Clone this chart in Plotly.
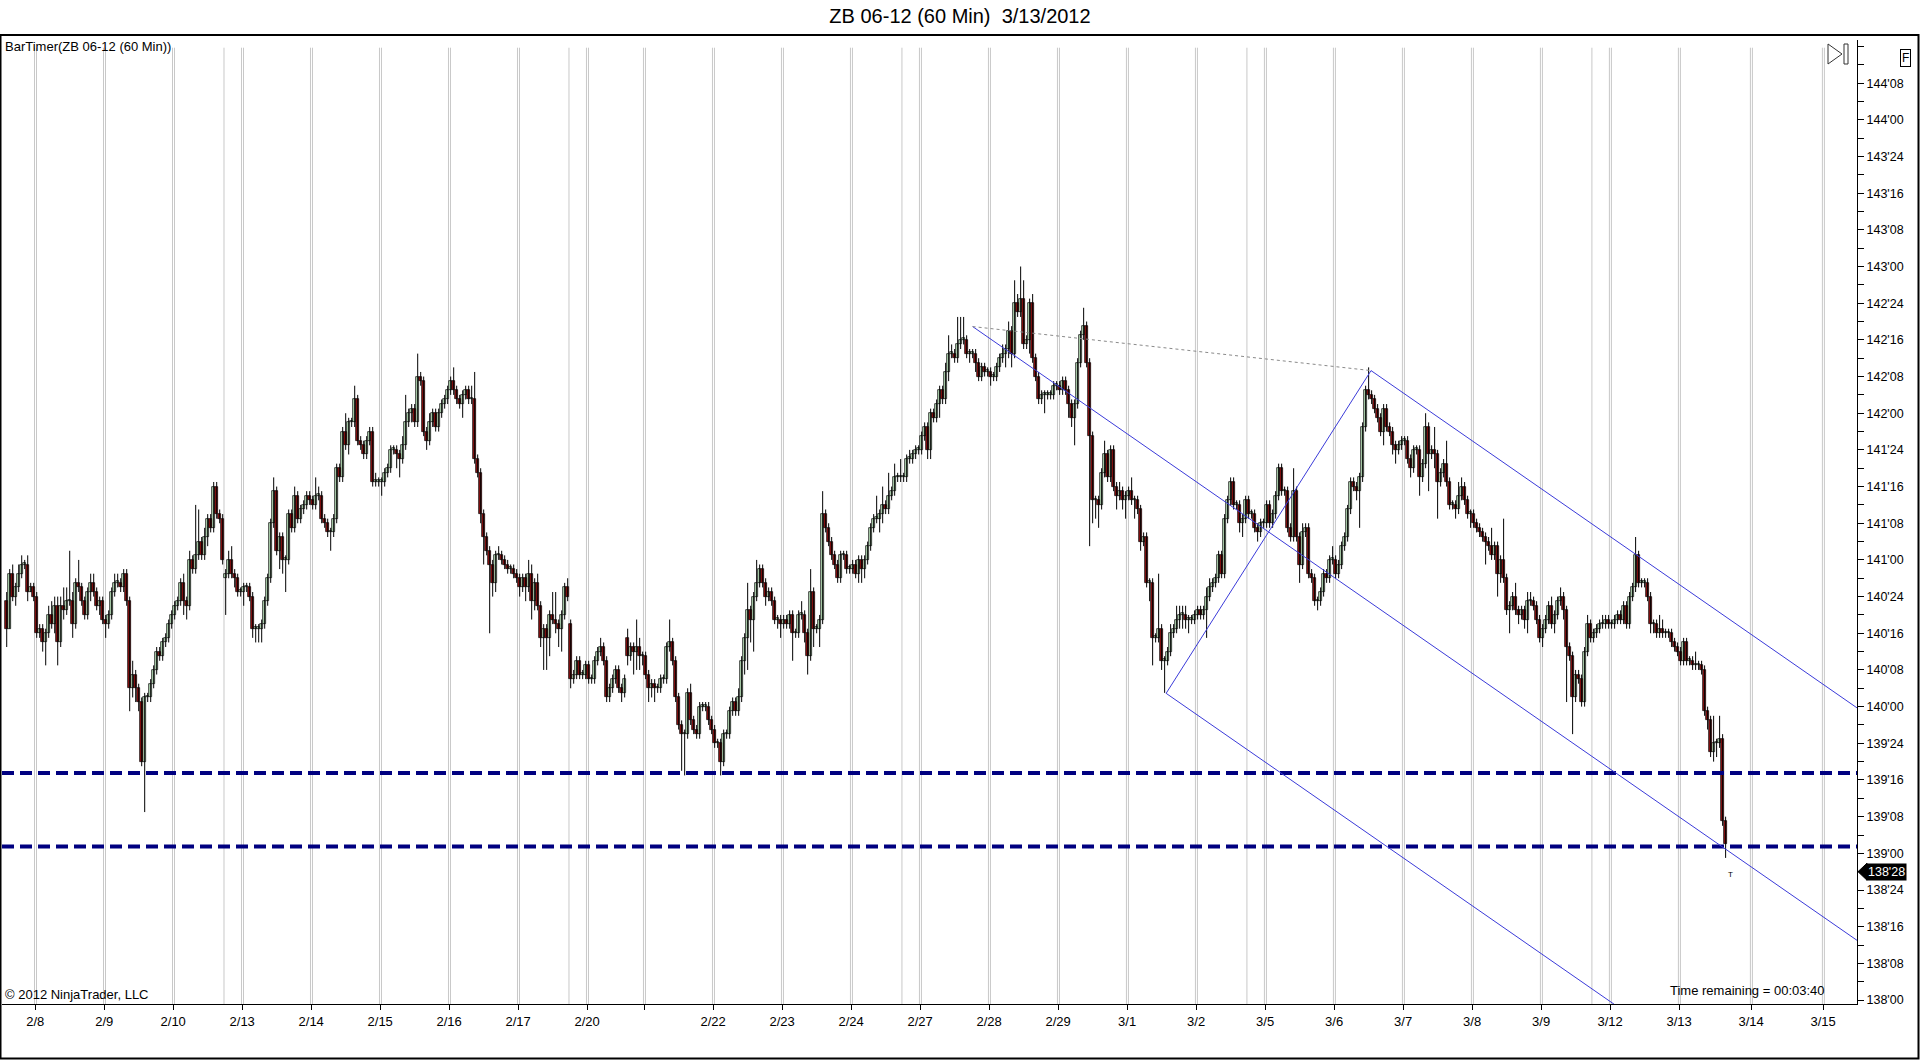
import plotly.graph_objects as go

# ZB 06-12, 60 minute bars; prices in 32nds above 138'00
closes = [
    81, 93, 88, 90, 93, 95, 95, 89, 90, 88,
    80, 81, 78, 80, 84, 82, 86, 78, 86, 85,
    87, 87, 82, 91, 90, 87, 84, 89, 91, 89,
    86, 87, 83, 82, 84, 89, 91, 91, 90, 93,
    87, 68, 71, 68, 65, 52, 66, 66, 69, 72,
    76, 75, 78, 79, 82, 84, 86, 87, 91, 87,
    86, 96, 94, 97, 100, 97, 101, 105, 103, 112,
    106, 105, 96, 93, 96, 93, 92, 89, 89, 90,
    90, 88, 81, 81, 81, 82, 87, 92, 104, 111,
    98, 101, 96, 96, 106, 103, 110, 105, 107, 108,
    110, 109, 108, 110, 110, 105, 104, 102, 102, 105,
    116, 114, 124, 121, 126, 126, 131, 122, 121, 119,
    122, 124, 113, 113, 113, 113, 115, 116, 120, 120,
    119, 118, 121, 126, 128, 129, 126, 136, 135, 124,
    122, 126, 128, 125, 128, 130, 131, 133, 135, 133,
    131, 130, 132, 133, 131, 131, 118, 115, 106, 101,
    98, 95, 91, 97, 97, 96, 95, 94, 94, 93,
    92, 90, 92, 90, 93, 87, 91, 86, 79, 81,
    79, 84, 83, 82, 81, 84, 90, 88, 70, 71,
    74, 71, 71, 73, 70, 70, 74, 76, 77, 74,
    66, 68, 70, 72, 68, 67, 70, 75, 77, 76,
    77, 75, 75, 71, 68, 69, 68, 68, 70, 70,
    77, 78, 74, 66, 60, 58, 58, 67, 61, 59,
    58, 64, 64, 64, 61, 59, 56, 56, 52, 58,
    58, 63, 65, 63, 66, 74, 79, 85, 83, 88,
    91, 94, 91, 88, 89, 87, 83, 83, 82, 83,
    82, 84, 80, 80, 84, 84, 80, 75, 89, 81,
    81, 83, 106, 103, 100, 97, 95, 92, 97, 97,
    94, 94, 95, 93, 96, 94, 96, 99, 103, 105,
    105, 106, 108, 107, 110, 111, 114, 114, 114, 114,
    118, 118, 119, 120, 120, 123, 125, 120, 128, 127,
    130, 133, 131, 137, 141, 141, 140, 143, 144, 144,
    141, 141, 141, 139, 136, 138, 137, 137, 136, 136,
    138, 140, 141, 142, 146, 141, 152, 150, 153, 143,
    144, 152, 140, 136, 131, 132, 132, 132, 132, 134,
    134, 133, 135, 133, 130, 127, 130, 139, 145, 147,
    139, 123, 109, 109, 108, 115, 119, 114, 120, 112,
    110, 111, 109, 110, 111, 109, 109, 107, 100, 101,
    91, 91, 79, 79, 81, 74, 74, 76, 80, 81,
    83, 84, 84, 83, 83, 83, 84, 85, 84, 85,
    88, 90, 91, 92, 97, 93, 105, 109, 113, 108,
    108, 104, 105, 109, 106, 106, 103, 102, 104, 104,
    108, 104, 106, 110, 116, 111, 111, 103, 101, 111,
    101, 95, 102, 103, 93, 92, 87, 87, 89, 93,
    92, 96, 96, 93, 95, 99, 101, 107, 113, 112,
    111, 114, 125, 133, 132, 131, 129, 127, 124, 129,
    125, 124, 121, 120, 121, 122, 122, 118, 116, 120,
    120, 114, 117, 125, 119, 120, 119, 113, 115, 117,
    113, 108, 108, 107, 110, 112, 109, 106, 106, 104,
    103, 102, 101, 100, 99, 97, 99, 93, 96, 92,
    85, 86, 88, 85, 84, 85, 83, 87, 87, 86,
    83, 79, 81, 83, 86, 82, 84, 87, 88, 85,
    77, 75, 66, 71, 70, 65, 76, 82, 79, 80,
    81, 82, 82, 83, 82, 82, 83, 84, 83, 86,
    82, 88, 90, 97, 91, 91, 91, 88, 82, 82,
    80, 81, 80, 80, 80, 78, 77, 76, 74, 78,
    74, 74, 73, 73, 73, 72, 63, 61, 54, 56,
    56, 57, 39, 34,
]

# wick lengths in 32nds above the body top / below the body bottom
up_wick = [
    2, 1, 2, 1, 2, 2, 1, 2, 1, 1,
    1, 1, 1, 1, 2, 3, 2, 2, 2, 4,
    3, 11, 2, 1, 5, 1, 1, 1, 2, 2,
    1, 1, 1, 1, 1, 1, 2, 2, 1, 1,
    1, 1, 3, 1, 1, 1, 1, 1, 1, 1,
    1, 1, 1, 1, 1, 1, 1, 1, 1, 2,
    1, 2, 1, 11, 7, 1, 2, 1, 1, 1,
    1, 1, 1, 1, 2, 3, 1, 1, 1, 1,
    1, 1, 1, 1, 1, 1, 1, 1, 1, 3,
    1, 1, 1, 1, 1, 1, 2, 1, 1, 1,
    1, 1, 1, 4, 2, 1, 1, 1, 1, 1,
    1, 1, 1, 4, 1, 1, 3, 1, 1, 1,
    1, 1, 1, 2, 1, 1, 1, 1, 1, 1,
    1, 1, 2, 6, 1, 1, 1, 5, 1, 1,
    1, 2, 1, 1, 1, 1, 1, 1, 1, 3,
    1, 1, 1, 1, 1, 3, 6, 1, 1, 1,
    1, 1, 1, 1, 2, 1, 1, 1, 1, 1,
    1, 1, 1, 1, 3, 2, 1, 2, 1, 1,
    1, 1, 5, 6, 1, 1, 1, 2, 1, 1,
    1, 1, 1, 1, 1, 1, 1, 1, 2, 1,
    1, 1, 1, 1, 1, 1, 1, 2, 1, 1,
    6, 2, 1, 1, 1, 1, 1, 1, 1, 1,
    1, 5, 1, 1, 1, 1, 1, 1, 2, 1,
    1, 1, 1, 1, 1, 1, 1, 1, 1, 1,
    1, 1, 1, 1, 2, 1, 1, 6, 1, 1,
    5, 1, 1, 1, 1, 1, 1, 1, 1, 1,
    1, 1, 1, 1, 1, 3, 1, 1, 5, 1,
    1, 1, 5, 1, 1, 1, 1, 1, 1, 1,
    1, 1, 1, 1, 1, 1, 1, 1, 1, 1,
    5, 1, 4, 1, 5, 1, 3, 1, 4, 1,
    1, 2, 1, 1, 1, 1, 1, 1, 1, 1,
    1, 1, 1, 2, 4, 2, 1, 6, 5, 5,
    1, 1, 1, 1, 1, 1, 1, 1, 1, 1,
    1, 1, 2, 1, 2, 1, 5, 2, 7, 4,
    1, 1, 2, 1, 1, 1, 1, 1, 1, 1,
    1, 1, 1, 1, 1, 1, 1, 1, 1, 4,
    1, 1, 1, 1, 1, 1, 3, 1, 1, 1,
    1, 2, 1, 1, 1, 3, 1, 1, 1, 1,
    1, 1, 1, 1, 12, 1, 1, 1, 2, 1,
    3, 2, 2, 2, 1, 1, 1, 1, 1, 1,
    2, 2, 1, 1, 1, 1, 1, 1, 1, 1,
    1, 1, 1, 1, 1, 1, 1, 1, 1, 1,
    1, 1, 1, 1, 1, 1, 1, 1, 1, 5,
    1, 1, 2, 1, 1, 1, 1, 1, 1, 1,
    1, 1, 3, 1, 1, 1, 1, 1, 1, 1,
    1, 1, 1, 1, 5, 1, 1, 1, 1, 1,
    1, 1, 1, 1, 1, 1, 1, 1, 1, 1,
    1, 1, 1, 3, 1, 1, 5, 1, 1, 1,
    5, 1, 1, 1, 3, 2, 1, 1, 1, 1,
    1, 1, 1, 1, 1, 4, 1, 1, 1, 9,
    1, 1, 1, 3, 1, 1, 1, 2, 2, 1,
    1, 1, 1, 1, 1, 2, 1, 1, 2, 1,
    1, 1, 1, 1, 1, 1, 1, 2, 1, 1,
    1, 1, 2, 1, 1, 1, 1, 1, 1, 1,
    1, 1, 1, 4, 1, 1, 1, 1, 1, 1,
    1, 3, 2, 1, 1, 1, 1, 1, 1, 1,
    1, 1, 1, 3, 1, 1, 1, 1, 1, 6,
    1, 5, 1, 1,
]

down_wick = [
    4, 0, 1, 2, 1, 1, 1, 2, 0, 1,
    1, 1, 2, 5, 1, 1, 2, 5, 1, 2,
    1, 1, 3, 1, 1, 1, 1, 1, 2, 1,
    1, 2, 1, 3, 1, 1, 1, 1, 1, 1,
    1, 5, 2, 3, 2, 1, 11, 1, 1, 1,
    1, 1, 1, 1, 1, 1, 1, 1, 1, 3,
    3, 1, 1, 1, 1, 1, 1, 2, 1, 1,
    1, 1, 1, 8, 1, 1, 2, 1, 1, 3,
    1, 1, 2, 3, 3, 3, 1, 1, 1, 1,
    1, 4, 3, 7, 1, 1, 1, 1, 1, 1,
    1, 1, 1, 1, 1, 1, 1, 1, 4, 1,
    1, 1, 1, 1, 2, 1, 1, 1, 1, 1,
    1, 1, 1, 1, 1, 3, 1, 1, 1, 1,
    3, 4, 1, 1, 1, 2, 1, 1, 1, 1,
    2, 1, 1, 1, 1, 1, 1, 1, 1, 1,
    1, 1, 3, 1, 1, 1, 1, 1, 2, 6,
    1, 15, 3, 2, 1, 1, 1, 1, 1, 1,
    1, 2, 1, 3, 1, 4, 2, 1, 2, 7,
    7, 4, 1, 2, 4, 5, 1, 1, 2, 1,
    1, 1, 1, 1, 1, 1, 1, 1, 1, 1,
    1, 1, 1, 1, 1, 2, 1, 2, 1, 5,
    4, 3, 2, 1, 3, 2, 3, 1, 1, 1,
    1, 1, 1, 1, 1, 8, 9, 1, 1, 1,
    1, 1, 1, 1, 1, 1, 1, 1, 3, 1,
    1, 1, 1, 1, 1, 1, 3, 7, 5, 7,
    1, 1, 1, 2, 1, 1, 1, 2, 3, 1,
    1, 1, 6, 1, 1, 1, 2, 4, 1, 4,
    1, 4, 1, 1, 1, 1, 1, 1, 1, 1,
    1, 1, 1, 1, 2, 3, 2, 1, 1, 1,
    1, 3, 2, 1, 1, 1, 1, 1, 1, 1,
    1, 1, 1, 1, 1, 1, 1, 2, 2, 1,
    1, 3, 1, 1, 2, 1, 1, 1, 1, 1,
    1, 2, 1, 2, 1, 1, 1, 1, 2, 1,
    1, 1, 1, 3, 2, 3, 1, 1, 1, 1,
    1, 3, 1, 1, 1, 1, 4, 1, 1, 1,
    1, 1, 1, 1, 3, 2, 6, 1, 1, 1,
    1, 24, 5, 4, 5, 1, 1, 1, 1, 1,
    3, 1, 2, 4, 1, 1, 4, 1, 2, 1,
    1, 4, 6, 1, 1, 2, 7, 1, 1, 1,
    1, 2, 3, 2, 3, 1, 1, 1, 1, 1,
    6, 1, 1, 1, 1, 1, 1, 1, 1, 1,
    1, 2, 3, 1, 1, 1, 1, 2, 1, 1,
    1, 1, 1, 1, 1, 1, 1, 1, 1, 1,
    1, 4, 1, 1, 1, 1, 1, 2, 1, 1,
    1, 1, 1, 1, 1, 1, 1, 1, 1, 1,
    2, 8, 1, 1, 1, 1, 1, 1, 1, 3,
    1, 1, 2, 3, 1, 1, 1, 1, 2, 1,
    1, 4, 1, 1, 8, 1, 3, 8, 1, 1,
    1, 1, 1, 2, 1, 1, 1, 1, 3, 1,
    1, 1, 1, 5, 1, 1, 1, 5, 2, 1,
    1, 5, 1, 1, 2, 1, 2, 3, 1, 1,
    1, 1, 2, 1, 1, 1, 2, 1, 1, 2,
    12, 1, 8, 1, 1, 1, 1, 1, 1, 1,
    1, 1, 1, 1, 1, 1, 1, 1, 1, 1,
    1, 1, 1, 1, 1, 1, 1, 1, 2, 2,
    1, 1, 1, 1, 1, 1, 1, 1, 1, 1,
    1, 1, 1, 1, 1, 1, 1, 2, 1, 2,
    3, 1, 1, 3,
]

# bars that open away from the previous close (session gaps)
gap_opens = {0: 87, 73: 92, 188: 82, 207: 79}

# first bar of each trading day and its label (2/21 has no label on the chart)
day_starts = [10, 33, 56, 79, 102, 125, 148, 171, 194, 213, 236, 259, 282, 305,
              328, 351, 374, 397, 420, 443, 466, 489, 512, 535, 558, 582, 606]
day_labels = ['2/8', '2/9', '2/10', '2/13', '2/14', '2/15', '2/16', '2/17', '2/20', '',
              '2/22', '2/23', '2/24', '2/27', '2/28', '2/29', '3/1', '3/2', '3/5', '3/6',
              '3/7', '3/8', '3/9', '3/12', '3/13', '3/14', '3/15']
weekend_breaks = [72.5, 187.5, 298.5, 413.5, 528.5]

support_levels = [139 + 17.5 / 32, 139 + 1.5 / 32]
# pitchfork anchors: (bar, 32nds above 138'00)
fork_a = (322.0, 146.9)
fork_b = (386.5, 66.9)
fork_c = (454.8, 137.3)
last_price = 138 + 28 / 32

X_MIN, X_MAX = -1.57, 616.8
Y_MIN, Y_MAX = 137.973, 144.544


def px(t):
    return 138 + t / 32.0


def fmt32(v):
    whole = int(v + 1e-9)
    return "%d'%02d" % (whole, round((v - whole) * 32))


n = len(closes)
assert n == len(up_wick) == len(down_wick) == 574

opens = [gap_opens.get(i, closes[i - 1] if i else closes[0]) for i in range(n)]
highs = [max(opens[i], closes[i]) + up_wick[i] for i in range(n)]
lows = [min(opens[i], closes[i]) - down_wick[i] for i in range(n)]

fig = go.Figure()

# day / session grid (offsets keep the 1px lines on whole pixels)
grid = dict(color='#c8c8c8', width=1)
for d in day_starts:
    for off in (-0.737, -0.07):
        fig.add_shape(type='line', xref='x', yref='paper', x0=d + off, x1=d + off, y0=0, y1=0.992,
                      line=grid, layer='below')
for w in weekend_breaks:
    fig.add_shape(type='line', xref='x', yref='paper', x0=w - 0.07, x1=w - 0.07, y0=0, y1=0.992,
                  line=grid, layer='below')

# wicks
wx, wy = [], []
for i in range(n):
    wx += [i, i, None]
    wy += [px(lows[i]), px(highs[i]), None]
fig.add_trace(go.Scatter(x=wx, y=wy, mode='lines', line=dict(color='black', width=1),
                         hoverinfo='skip'))

# bodies
min_h = 0.35 / 32
for up in (True, False):
    idx = [i for i in range(n) if (closes[i] >= opens[i]) == up]
    base = [px(min(opens[i], closes[i])) for i in idx]
    hgt = [max(abs(closes[i] - opens[i]) / 32.0, min_h) for i in idx]
    fig.add_trace(go.Bar(x=idx, y=hgt, base=base, width=1.0,
                         marker=dict(color='#b5dbb5' if up else '#8b1010',
                                     line=dict(color='black', width=0.7)),
                         hoverinfo='skip'))

# support lines
for lvl in support_levels:
    fig.add_trace(go.Scatter(x=[X_MIN, X_MAX], y=[lvl, lvl], mode='lines',
                             line=dict(color='#000080', width=4, dash='12px,6px'),
                             hoverinfo='skip'))

# Andrews pitchfork
ax, ay = fork_a[0], px(fork_a[1])
bx, by = fork_b[0], px(fork_b[1])
cx, cy = fork_c[0], px(fork_c[1])
mx, my = (bx + cx) / 2, (by + cy) / 2
slope = (my - ay) / (mx - ax)
blue = dict(color='#3b3bd9', width=1)
for x0, y0 in ((ax, ay), (bx, by), (cx, cy)):
    fig.add_trace(go.Scatter(x=[x0, X_MAX], y=[y0, y0 + slope * (X_MAX - x0)], mode='lines',
                             line=blue, hoverinfo='skip'))
fig.add_trace(go.Scatter(x=[bx, cx], y=[by, cy], mode='lines', line=blue, hoverinfo='skip'))
fig.add_trace(go.Scatter(x=[ax, cx], y=[ay, cy], mode='lines',
                         line=dict(color='#8a8a8a', width=1, dash='dot'), hoverinfo='skip'))

# y ticks every 8/32 with minor ticks every 4/32
tick_vals = [138 + k * 0.25 for k in range(27)]
tick_text = [fmt32(v) if v < 144.4 else '' for v in tick_vals]
minor_vals = [138.125 + k * 0.25 for k in range(26)]

W, H = 1920, 1060
L, R, T, B = 2, 63, 40, 56
pw, ph = W - L - R, H - T - B


def pxx(x):
    return (x - L) / pw


def pxy(y):
    return (H - B - y) / ph


shapes = [
    dict(type='rect', xref='paper', yref='paper', x0=pxx(0.5), x1=pxx(1918.5),
         y0=pxy(1058.5), y1=pxy(35), line=dict(color='black', width=2)),
    dict(type='path', xref='paper', yref='paper',
         path='M %f %f L %f %f L %f %f Z' % (pxx(1828), pxy(44), pxx(1842), pxy(54), pxx(1828), pxy(64)),
         line=dict(color='#333333', width=1)),
    dict(type='rect', xref='paper', yref='paper', x0=pxx(1844), x1=pxx(1848),
         y0=pxy(64), y1=pxy(44), line=dict(color='#333333', width=1)),
    dict(type='path', xref='paper', yref='y',
         path='M %f %f L %f %f L %f %f Z' % (pxx(1858), last_price, pxx(1867), last_price + 0.058,
                                            pxx(1867), last_price - 0.058),
         fillcolor='black', line=dict(color='black', width=1)),
]
for s in shapes:
    fig.add_shape(**s)

font = 'Liberation Sans, Arial, sans-serif'
fig.add_annotation(x=pxx(3), y=pxy(47), xref='paper', yref='paper', text='BarTimer(ZB 06-12 (60 Min))',
                   showarrow=False, xanchor='left', yanchor='middle', font=dict(size=13))
fig.add_annotation(x=pxx(3), y=pxy(994), xref='paper', yref='paper', text='© 2012 NinjaTrader, LLC',
                   showarrow=False, xanchor='left', yanchor='middle', font=dict(size=13))
fig.add_annotation(x=pxx(1827), y=pxy(990), xref='paper', yref='paper',
                   text='Time remaining = 00:03:40', showarrow=False, xanchor='right',
                   yanchor='middle', font=dict(size=13))
fig.add_annotation(x=pxx(1911), y=pxy(49.5), xref='paper', yref='paper', text='F', showarrow=False,
                   font=dict(size=12), bordercolor='black', borderwidth=1, borderpad=1)
fig.add_annotation(x=pxx(1866), y=last_price, xref='paper', yref='y', text=fmt32(last_price),
                   showarrow=False, xanchor='left', yanchor='middle', bgcolor='black',
                   font=dict(size=12.5, color='white'), borderpad=1)
fig.add_annotation(x=n + 0.5, y=last_price - 0.02, xref='x', yref='y', text='T', showarrow=False,
                   font=dict(size=8, color='black'))

fig.update_layout(
    width=W, height=H,
    margin=dict(l=L, r=R, t=T, b=B),
    paper_bgcolor='white', plot_bgcolor='white',
    showlegend=False, barmode='overlay', bargap=0,
    font=dict(family=font, size=12, color='black'),
    title=dict(text='ZB 06-12 (60 Min) \u00a03/13/2012', x=0.5, xref='container', xanchor='center',
               y=1 - 16 / H, yref='container', yanchor='middle', font=dict(size=20, color='black')),
    xaxis=dict(range=[X_MIN, X_MAX], tickvals=[d - 0.5 for d in day_starts], ticktext=day_labels,
               ticks='outside', ticklen=5, tickcolor='black', showgrid=False, zeroline=False,
               showline=True, linecolor='black', linewidth=1, tickfont=dict(size=13)),
    yaxis=dict(range=[Y_MIN, Y_MAX], side='right', tickvals=tick_vals, ticktext=tick_text,
               ticks='outside', ticklen=6, tickcolor='black', showgrid=False, zeroline=False,
               showline=True, linecolor='black', linewidth=1, tickfont=dict(size=12.5),
               minor=dict(tickvals=minor_vals, ticks='outside', ticklen=6, tickcolor='black')),
)

# the page body has a default 8px margin; remove it so the figure fills the window
fig.write_html('out.html', config={'displayModeBar': False},
               post_script="document.body.style.margin='0';")
